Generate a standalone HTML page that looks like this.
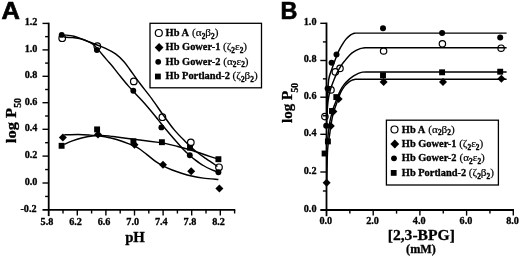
<!DOCTYPE html>
<html><head><meta charset="utf-8"><title>Figure</title>
<style>html,body{margin:0;padding:0;background:#fff}svg{display:block;filter:grayscale(1)}</style></head>
<body><svg width="520" height="258" viewBox="0 0 520 258">
<rect width="520" height="258" fill="#fff"/>
<circle cx="62.20" cy="38.20" r="3.30" fill="#fff" stroke="#000" stroke-width="1.2"/>
<circle cx="97.30" cy="46.20" r="3.30" fill="#fff" stroke="#000" stroke-width="1.2"/>
<circle cx="133.80" cy="81.40" r="3.30" fill="#fff" stroke="#000" stroke-width="1.2"/>
<circle cx="162.40" cy="117.20" r="3.30" fill="#fff" stroke="#000" stroke-width="1.2"/>
<circle cx="190.80" cy="142.50" r="3.30" fill="#fff" stroke="#000" stroke-width="1.2"/>
<circle cx="219.00" cy="167.30" r="3.30" fill="#fff" stroke="#000" stroke-width="1.2"/>
<line x1="48.70" y1="22.70" x2="48.70" y2="216.10" stroke="#000" stroke-width="1.80"/>
<line x1="42.50" y1="209.90" x2="235.30" y2="209.90" stroke="#000" stroke-width="1.80"/>
<line x1="42.50" y1="23.40" x2="48.70" y2="23.40" stroke="#000" stroke-width="1.40"/>
<text x="37.40" y="25.30" font-size="10.20" text-anchor="end" font-family="Liberation Serif, serif" font-weight="bold" stroke="#000" stroke-width="0.3" >1.2</text>
<line x1="45.10" y1="36.65" x2="48.70" y2="36.65" stroke="#000" stroke-width="1.40"/>
<line x1="42.50" y1="49.90" x2="48.70" y2="49.90" stroke="#000" stroke-width="1.40"/>
<text x="37.40" y="51.80" font-size="10.20" text-anchor="end" font-family="Liberation Serif, serif" font-weight="bold" stroke="#000" stroke-width="0.3" >1.0</text>
<line x1="45.10" y1="63.10" x2="48.70" y2="63.10" stroke="#000" stroke-width="1.40"/>
<line x1="42.50" y1="76.30" x2="48.70" y2="76.30" stroke="#000" stroke-width="1.40"/>
<text x="37.40" y="78.20" font-size="10.20" text-anchor="end" font-family="Liberation Serif, serif" font-weight="bold" stroke="#000" stroke-width="0.3" >0.8</text>
<line x1="45.10" y1="89.50" x2="48.70" y2="89.50" stroke="#000" stroke-width="1.40"/>
<line x1="42.50" y1="102.70" x2="48.70" y2="102.70" stroke="#000" stroke-width="1.40"/>
<text x="37.40" y="104.60" font-size="10.20" text-anchor="end" font-family="Liberation Serif, serif" font-weight="bold" stroke="#000" stroke-width="0.3" >0.6</text>
<line x1="45.10" y1="116.00" x2="48.70" y2="116.00" stroke="#000" stroke-width="1.40"/>
<line x1="42.50" y1="129.30" x2="48.70" y2="129.30" stroke="#000" stroke-width="1.40"/>
<text x="37.40" y="131.20" font-size="10.20" text-anchor="end" font-family="Liberation Serif, serif" font-weight="bold" stroke="#000" stroke-width="0.3" >0.4</text>
<line x1="45.10" y1="142.70" x2="48.70" y2="142.70" stroke="#000" stroke-width="1.40"/>
<line x1="42.50" y1="156.10" x2="48.70" y2="156.10" stroke="#000" stroke-width="1.40"/>
<text x="37.40" y="158.00" font-size="10.20" text-anchor="end" font-family="Liberation Serif, serif" font-weight="bold" stroke="#000" stroke-width="0.3" >0.2</text>
<line x1="45.10" y1="169.55" x2="48.70" y2="169.55" stroke="#000" stroke-width="1.40"/>
<line x1="42.50" y1="183.00" x2="48.70" y2="183.00" stroke="#000" stroke-width="1.40"/>
<text x="37.40" y="184.90" font-size="10.20" text-anchor="end" font-family="Liberation Serif, serif" font-weight="bold" stroke="#000" stroke-width="0.3" >0.0</text>
<line x1="45.10" y1="196.45" x2="48.70" y2="196.45" stroke="#000" stroke-width="1.40"/>
<text x="36.60" y="211.80" font-size="10.20" text-anchor="end" font-family="Liberation Serif, serif" font-weight="bold" stroke="#000" stroke-width="0.3" >-0.2</text>
<text x="46.90" y="224.90" font-size="10.20" text-anchor="middle" font-family="Liberation Serif, serif" font-weight="bold" stroke="#000" stroke-width="0.3" >5.8</text>
<line x1="63.00" y1="209.90" x2="63.00" y2="213.50" stroke="#000" stroke-width="1.40"/>
<line x1="77.30" y1="209.90" x2="77.30" y2="215.50" stroke="#000" stroke-width="1.40"/>
<text x="75.50" y="224.90" font-size="10.20" text-anchor="middle" font-family="Liberation Serif, serif" font-weight="bold" stroke="#000" stroke-width="0.3" >6.2</text>
<line x1="91.60" y1="209.90" x2="91.60" y2="213.50" stroke="#000" stroke-width="1.40"/>
<line x1="105.90" y1="209.90" x2="105.90" y2="215.50" stroke="#000" stroke-width="1.40"/>
<text x="104.10" y="224.90" font-size="10.20" text-anchor="middle" font-family="Liberation Serif, serif" font-weight="bold" stroke="#000" stroke-width="0.3" >6.6</text>
<line x1="120.20" y1="209.90" x2="120.20" y2="213.50" stroke="#000" stroke-width="1.40"/>
<line x1="134.50" y1="209.90" x2="134.50" y2="215.50" stroke="#000" stroke-width="1.40"/>
<text x="132.70" y="224.90" font-size="10.20" text-anchor="middle" font-family="Liberation Serif, serif" font-weight="bold" stroke="#000" stroke-width="0.3" >7.0</text>
<line x1="148.80" y1="209.90" x2="148.80" y2="213.50" stroke="#000" stroke-width="1.40"/>
<line x1="163.10" y1="209.90" x2="163.10" y2="215.50" stroke="#000" stroke-width="1.40"/>
<text x="161.30" y="224.90" font-size="10.20" text-anchor="middle" font-family="Liberation Serif, serif" font-weight="bold" stroke="#000" stroke-width="0.3" >7.4</text>
<line x1="177.40" y1="209.90" x2="177.40" y2="213.50" stroke="#000" stroke-width="1.40"/>
<line x1="191.70" y1="209.90" x2="191.70" y2="215.50" stroke="#000" stroke-width="1.40"/>
<text x="189.90" y="224.90" font-size="10.20" text-anchor="middle" font-family="Liberation Serif, serif" font-weight="bold" stroke="#000" stroke-width="0.3" >7.8</text>
<line x1="206.00" y1="209.90" x2="206.00" y2="213.50" stroke="#000" stroke-width="1.40"/>
<line x1="220.30" y1="209.90" x2="220.30" y2="215.50" stroke="#000" stroke-width="1.40"/>
<text x="218.50" y="224.90" font-size="10.20" text-anchor="middle" font-family="Liberation Serif, serif" font-weight="bold" stroke="#000" stroke-width="0.3" >8.2</text>
<line x1="234.60" y1="209.90" x2="234.60" y2="213.50" stroke="#000" stroke-width="1.40"/>
<text x="135.00" y="241.50" font-size="14.80" text-anchor="middle" font-family="Liberation Serif, serif" font-weight="bold" stroke="#000" stroke-width="0.3" >pH</text>
<text transform="translate(15.7,143.2) rotate(-90) scale(1.065,1)" font-size="15.5" font-family="Liberation Serif, serif" font-weight="bold" stroke="#000" stroke-width="0.3">log P<tspan font-size="9.3" dx="0.1" dy="4.8">50</tspan></text>
<text x="1.6" y="19.3" font-size="24.5" font-family="Liberation Sans, sans-serif" font-weight="bold" stroke="#000" stroke-width="0.7" transform="translate(1.6 19.3) scale(1.04 1) translate(-1.6 -19.3)">A</text>
<path d="M64.30 34.90 C65.92 35.13 70.70 35.47 74.00 36.30 C77.30 37.13 80.68 38.62 84.10 39.90 C87.52 41.18 91.02 42.62 94.50 44.00 C97.98 45.38 101.43 46.50 105.00 48.20 C108.57 49.90 112.73 51.93 115.90 54.20 C119.07 56.47 121.65 59.22 124.00 61.80 C126.35 64.38 127.33 66.08 130.00 69.70 C132.67 73.32 136.38 78.68 140.00 83.50 C143.62 88.32 147.80 93.30 151.70 98.60 C155.60 103.90 159.63 110.08 163.40 115.30 C167.17 120.52 170.70 125.58 174.30 129.90 C177.90 134.22 181.52 137.73 185.00 141.20 C188.48 144.67 191.70 147.80 195.20 150.70 C198.70 153.60 202.28 155.98 206.00 158.60 C209.72 161.22 215.58 165.10 217.50 166.40" fill="none" stroke="#000" stroke-width="1.45" stroke-linejoin="round"/>
<path d="M64.30 37.20 C65.65 37.27 69.68 37.35 72.40 37.60 C75.12 37.85 77.68 37.90 80.60 38.70 C83.52 39.50 87.50 41.18 89.90 42.40 C92.30 43.62 93.37 44.50 95.00 46.00 C96.63 47.50 97.77 49.13 99.70 51.40 C101.63 53.67 104.38 57.00 106.60 59.60 C108.82 62.20 110.75 64.27 113.00 67.00 C115.25 69.73 117.55 72.85 120.10 76.00 C122.65 79.15 125.77 82.98 128.30 85.90 C130.83 88.82 132.95 90.98 135.30 93.50 C137.65 96.02 139.85 98.17 142.40 101.00 C144.95 103.83 148.00 107.40 150.60 110.50 C153.20 113.60 155.43 116.43 158.00 119.60 C160.57 122.77 163.32 126.27 166.00 129.50 C168.68 132.73 171.07 135.53 174.10 139.00 C177.13 142.47 181.55 147.53 184.20 150.30 C186.85 153.07 188.18 154.02 190.00 155.60 C191.82 157.18 192.88 158.15 195.10 159.80 C197.32 161.45 200.58 163.87 203.30 165.50 C206.02 167.13 209.03 168.53 211.40 169.60 C213.77 170.67 216.48 171.52 217.50 171.90" fill="none" stroke="#000" stroke-width="1.45" stroke-linejoin="round"/>
<path d="M64.30 134.80 C66.63 134.75 74.03 134.45 78.30 134.50 C82.57 134.55 86.03 134.82 89.90 135.10 C93.77 135.38 98.15 135.75 101.50 136.20 C104.85 136.65 107.48 137.25 110.00 137.80 C112.52 138.35 113.55 138.53 116.60 139.50 C119.65 140.47 124.82 142.25 128.30 143.60 C131.78 144.95 134.45 145.82 137.50 147.60 C140.55 149.38 143.53 151.95 146.60 154.30 C149.67 156.65 153.18 159.77 155.90 161.70 C158.62 163.63 160.18 164.52 162.90 165.90 C165.62 167.28 169.10 168.78 172.20 170.00 C175.30 171.22 178.27 172.20 181.50 173.20 C184.73 174.20 187.97 175.18 191.60 176.00 C195.23 176.82 198.83 177.52 203.30 178.10 C207.77 178.68 215.88 179.27 218.40 179.50" fill="none" stroke="#000" stroke-width="1.45" stroke-linejoin="round"/>
<path d="M64.30 144.40 C65.65 143.82 69.50 141.97 72.40 140.90 C75.30 139.83 78.40 138.82 81.70 138.00 C85.00 137.18 88.90 136.43 92.20 136.00 C95.50 135.57 98.53 135.38 101.50 135.40 C104.47 135.42 107.48 135.83 110.00 136.10 C112.52 136.37 112.98 136.52 116.60 137.00 C120.22 137.48 126.85 138.37 131.70 139.00 C136.55 139.63 141.23 140.23 145.70 140.80 C150.17 141.37 155.28 141.97 158.50 142.40 C161.72 142.83 161.98 142.78 165.00 143.40 C168.02 144.02 172.72 145.13 176.60 146.10 C180.48 147.07 184.42 148.05 188.30 149.20 C192.18 150.35 197.02 152.03 199.90 153.00 C202.78 153.97 202.67 154.02 205.60 155.00 C208.53 155.98 215.52 158.25 217.50 158.90" fill="none" stroke="#000" stroke-width="1.45" stroke-linejoin="round"/>
<circle cx="61.70" cy="34.90" r="2.95" fill="#000"/>
<circle cx="96.90" cy="50.00" r="2.95" fill="#000"/>
<circle cx="133.30" cy="90.80" r="2.95" fill="#000"/>
<circle cx="161.40" cy="127.40" r="2.95" fill="#000"/>
<circle cx="189.80" cy="155.30" r="2.95" fill="#000"/>
<circle cx="218.40" cy="172.30" r="2.95" fill="#000"/>
<rect x="58.65" y="142.85" width="5.90" height="5.90" fill="#000"/>
<rect x="94.15" y="126.45" width="5.90" height="5.90" fill="#000"/>
<rect x="130.45" y="138.35" width="5.90" height="5.90" fill="#000"/>
<rect x="158.95" y="139.25" width="5.90" height="5.90" fill="#000"/>
<rect x="187.05" y="144.75" width="5.90" height="5.90" fill="#000"/>
<rect x="215.45" y="156.25" width="5.90" height="5.90" fill="#000"/>
<path d="M62.90 133.50 L66.90 137.50 L62.90 141.50 L58.90 137.50Z" fill="#000"/>
<path d="M98.00 130.50 L102.00 134.50 L98.00 138.50 L94.00 134.50Z" fill="#000"/>
<path d="M134.50 140.80 L138.50 144.80 L134.50 148.80 L130.50 144.80Z" fill="#000"/>
<path d="M163.00 160.80 L167.00 164.80 L163.00 168.80 L159.00 164.80Z" fill="#000"/>
<path d="M191.20 167.20 L195.20 171.20 L191.20 175.20 L187.20 171.20Z" fill="#000"/>
<path d="M219.40 184.40 L223.40 188.40 L219.40 192.40 L215.40 188.40Z" fill="#000"/>
<rect x="150.00" y="23.30" width="111.50" height="64.50" fill="#fff" stroke="#000" stroke-width="1.3"/>
<circle cx="158.80" cy="33.00" r="3.50" fill="#fff" stroke="#000" stroke-width="1.2"/>
<text x="165.60" y="36.10" font-size="11.2" font-family="Liberation Serif, serif" stroke="#000" stroke-width="0.2"><tspan font-weight="bold" font-size="10.4" stroke-width="0.3">Hb A </tspan><tspan dx="1.1">(α</tspan><tspan font-size="7.3" font-weight="bold" stroke-width="0.35" dy="2.7">2</tspan><tspan dy="-2.7">β</tspan><tspan font-size="7.3" font-weight="bold" stroke-width="0.35" dy="2.7">2</tspan><tspan dy="-2.7">)</tspan></text>
<path d="M159.10 43.10 L163.50 47.50 L159.10 51.90 L154.70 47.50Z" fill="#000"/>
<text x="165.60" y="50.40" font-size="11.2" font-family="Liberation Serif, serif" stroke="#000" stroke-width="0.2"><tspan font-weight="bold" font-size="10.4" stroke-width="0.3">Hb Gower-1 </tspan><tspan dx="0.0">(ζ</tspan><tspan font-size="7.3" font-weight="bold" stroke-width="0.35" dy="2.7">2</tspan><tspan dy="-2.7">ε</tspan><tspan font-size="7.3" font-weight="bold" stroke-width="0.35" dy="2.7">2</tspan><tspan dy="-2.7">)</tspan></text>
<circle cx="158.20" cy="61.80" r="2.90" fill="#000"/>
<text x="165.60" y="64.70" font-size="11.2" font-family="Liberation Serif, serif" stroke="#000" stroke-width="0.2"><tspan font-weight="bold" font-size="10.4" stroke-width="0.3">Hb Gower-2 </tspan><tspan dx="0.3">(α</tspan><tspan font-size="7.3" font-weight="bold" stroke-width="0.35" dy="2.7">2</tspan><tspan dy="-2.7">ε</tspan><tspan font-size="7.3" font-weight="bold" stroke-width="0.35" dy="2.7">2</tspan><tspan dy="-2.7">)</tspan></text>
<rect x="155.00" y="73.60" width="5.80" height="5.80" fill="#000"/>
<text x="165.60" y="79.00" font-size="11.2" font-family="Liberation Serif, serif" stroke="#000" stroke-width="0.2"><tspan font-weight="bold" font-size="10.4" stroke-width="0.3">Hb Portland-2 </tspan><tspan dx="0.0">(ζ</tspan><tspan font-size="7.3" font-weight="bold" stroke-width="0.35" dy="2.7">2</tspan><tspan dy="-2.7">β</tspan><tspan font-size="7.3" font-weight="bold" stroke-width="0.35" dy="2.7">2</tspan><tspan dy="-2.7">)</tspan></text>
<circle cx="383.60" cy="51.00" r="3.20" fill="#fff" stroke="#000" stroke-width="1.2"/>
<circle cx="340.00" cy="68.40" r="3.20" fill="#fff" stroke="#000" stroke-width="1.2"/>
<circle cx="335.30" cy="71.90" r="3.20" fill="#fff" stroke="#000" stroke-width="1.2"/>
<circle cx="331.00" cy="89.90" r="3.20" fill="#fff" stroke="#000" stroke-width="1.2"/>
<circle cx="324.90" cy="116.60" r="3.20" fill="#fff" stroke="#000" stroke-width="1.2"/>
<circle cx="442.40" cy="43.80" r="3.20" fill="#fff" stroke="#000" stroke-width="1.2"/>
<circle cx="501.10" cy="48.20" r="3.20" fill="#fff" stroke="#000" stroke-width="1.2"/>
<line x1="326.50" y1="22.60" x2="326.50" y2="216.20" stroke="#000" stroke-width="1.80"/>
<line x1="320.30" y1="210.00" x2="514.00" y2="210.00" stroke="#000" stroke-width="1.80"/>
<line x1="320.30" y1="23.30" x2="326.50" y2="23.30" stroke="#000" stroke-width="1.40"/>
<text x="316.50" y="25.00" font-size="10.20" text-anchor="end" font-family="Liberation Serif, serif" font-weight="bold" stroke="#000" stroke-width="0.3" >1.0</text>
<line x1="322.90" y1="41.90" x2="326.50" y2="41.90" stroke="#000" stroke-width="1.40"/>
<line x1="320.30" y1="60.50" x2="326.50" y2="60.50" stroke="#000" stroke-width="1.40"/>
<text x="316.50" y="62.20" font-size="10.20" text-anchor="end" font-family="Liberation Serif, serif" font-weight="bold" stroke="#000" stroke-width="0.3" >0.8</text>
<line x1="322.90" y1="78.85" x2="326.50" y2="78.85" stroke="#000" stroke-width="1.40"/>
<line x1="320.30" y1="97.20" x2="326.50" y2="97.20" stroke="#000" stroke-width="1.40"/>
<text x="316.50" y="98.90" font-size="10.20" text-anchor="end" font-family="Liberation Serif, serif" font-weight="bold" stroke="#000" stroke-width="0.3" >0.6</text>
<line x1="322.90" y1="115.75" x2="326.50" y2="115.75" stroke="#000" stroke-width="1.40"/>
<line x1="320.30" y1="134.30" x2="326.50" y2="134.30" stroke="#000" stroke-width="1.40"/>
<text x="316.50" y="136.00" font-size="10.20" text-anchor="end" font-family="Liberation Serif, serif" font-weight="bold" stroke="#000" stroke-width="0.3" >0.4</text>
<line x1="322.90" y1="153.15" x2="326.50" y2="153.15" stroke="#000" stroke-width="1.40"/>
<line x1="320.30" y1="172.00" x2="326.50" y2="172.00" stroke="#000" stroke-width="1.40"/>
<text x="316.50" y="173.70" font-size="10.20" text-anchor="end" font-family="Liberation Serif, serif" font-weight="bold" stroke="#000" stroke-width="0.3" >0.2</text>
<line x1="322.90" y1="191.00" x2="326.50" y2="191.00" stroke="#000" stroke-width="1.40"/>
<text x="316.50" y="211.70" font-size="10.20" text-anchor="end" font-family="Liberation Serif, serif" font-weight="bold" stroke="#000" stroke-width="0.3" >0.0</text>
<text x="325.80" y="223.90" font-size="10.20" text-anchor="middle" font-family="Liberation Serif, serif" font-weight="bold" stroke="#000" stroke-width="0.3" >0.0</text>
<line x1="349.85" y1="210.00" x2="349.85" y2="213.60" stroke="#000" stroke-width="1.40"/>
<line x1="373.20" y1="210.00" x2="373.20" y2="215.60" stroke="#000" stroke-width="1.40"/>
<text x="372.50" y="223.90" font-size="10.20" text-anchor="middle" font-family="Liberation Serif, serif" font-weight="bold" stroke="#000" stroke-width="0.3" >2.0</text>
<line x1="396.55" y1="210.00" x2="396.55" y2="213.60" stroke="#000" stroke-width="1.40"/>
<line x1="419.90" y1="210.00" x2="419.90" y2="215.60" stroke="#000" stroke-width="1.40"/>
<text x="419.20" y="223.90" font-size="10.20" text-anchor="middle" font-family="Liberation Serif, serif" font-weight="bold" stroke="#000" stroke-width="0.3" >4.0</text>
<line x1="443.25" y1="210.00" x2="443.25" y2="213.60" stroke="#000" stroke-width="1.40"/>
<line x1="466.60" y1="210.00" x2="466.60" y2="215.60" stroke="#000" stroke-width="1.40"/>
<text x="465.90" y="223.90" font-size="10.20" text-anchor="middle" font-family="Liberation Serif, serif" font-weight="bold" stroke="#000" stroke-width="0.3" >6.0</text>
<line x1="489.95" y1="210.00" x2="489.95" y2="213.60" stroke="#000" stroke-width="1.40"/>
<line x1="513.30" y1="210.00" x2="513.30" y2="215.60" stroke="#000" stroke-width="1.40"/>
<text x="512.60" y="223.90" font-size="10.20" text-anchor="middle" font-family="Liberation Serif, serif" font-weight="bold" stroke="#000" stroke-width="0.3" >8.0</text>
<text x="421.30" y="239.90" font-size="15.60" text-anchor="middle" font-family="Liberation Serif, serif" font-weight="bold" stroke="#000" stroke-width="0.3" >[2,3-BPG]</text>
<text x="421.00" y="253.00" font-size="12.20" text-anchor="middle" font-family="Liberation Serif, serif" font-weight="bold" stroke="#000" stroke-width="0.3" >(mM)</text>
<text transform="translate(292,122.9) rotate(-90)" font-size="15" font-family="Liberation Serif, serif" font-weight="bold" stroke="#000" stroke-width="0.3">log P<tspan font-size="9.5" dx="-1.6" dy="5.7">50</tspan></text>
<text x="280.6" y="19.3" font-size="23.4" font-family="Liberation Sans, sans-serif" font-weight="bold" stroke="#000" stroke-width="0.6">B</text>
<path d="M326.60 126.00 C326.73 121.67 327.05 107.72 327.40 100.00 C327.75 92.28 328.00 84.73 328.70 79.70 C329.40 74.67 330.53 73.10 331.60 69.80 C332.67 66.50 333.88 63.10 335.10 59.90 C336.32 56.70 337.73 53.12 338.90 50.60 C340.07 48.08 340.98 46.63 342.10 44.80 C343.22 42.97 344.33 41.13 345.60 39.60 C346.87 38.07 348.53 36.57 349.70 35.60 C350.87 34.63 351.68 34.22 352.60 33.80 C353.52 33.38 354.77 33.22 355.20 33.10 L506.60 33.10" fill="none" stroke="#000" stroke-width="1.45" stroke-linejoin="round"/>
<path d="M326.70 117.00 C326.95 114.17 327.60 104.50 328.20 100.00 C328.80 95.50 329.33 93.38 330.30 90.00 C331.27 86.62 332.82 82.68 334.00 79.70 C335.18 76.72 336.15 74.53 337.40 72.10 C338.65 69.67 340.13 67.13 341.50 65.10 C342.87 63.07 344.18 61.63 345.60 59.90 C347.02 58.17 348.60 56.08 350.00 54.70 C351.40 53.32 352.60 52.50 354.00 51.60 C355.40 50.70 357.00 49.88 358.40 49.30 C359.80 48.72 361.20 48.37 362.40 48.10 C363.60 47.83 365.07 47.77 365.60 47.70 L506.60 47.70" fill="none" stroke="#000" stroke-width="1.45" stroke-linejoin="round"/>
<path d="M327.40 142.00 C327.72 139.17 328.67 129.35 329.30 125.00 C329.93 120.65 330.58 118.57 331.20 115.90 C331.82 113.23 332.35 111.07 333.00 109.00 C333.65 106.93 334.37 105.45 335.10 103.50 C335.83 101.55 336.53 99.43 337.40 97.30 C338.27 95.17 339.23 92.77 340.30 90.70 C341.37 88.63 342.33 86.78 343.80 84.90 C345.27 83.02 347.45 80.90 349.10 79.40 C350.75 77.90 352.15 76.90 353.70 75.90 C355.25 74.90 356.93 74.03 358.40 73.40 C359.87 72.77 361.15 72.35 362.50 72.10 C363.85 71.85 365.83 71.93 366.50 71.90 L506.60 71.90" fill="none" stroke="#000" stroke-width="1.45" stroke-linejoin="round"/>
<path d="M326.80 182.00 C326.93 176.67 327.13 157.83 327.60 150.00 C328.07 142.17 329.07 139.00 329.60 135.00 C330.13 131.00 330.30 129.17 330.80 126.00 C331.30 122.83 331.98 118.78 332.60 116.00 C333.22 113.22 333.87 111.30 334.50 109.30 C335.13 107.30 335.62 106.23 336.40 104.00 C337.18 101.77 338.33 98.12 339.20 95.90 C340.07 93.68 340.63 92.42 341.60 90.70 C342.57 88.98 343.70 87.12 345.00 85.60 C346.30 84.08 348.15 82.53 349.40 81.60 C350.65 80.67 351.53 80.38 352.50 80.00 C353.47 79.62 354.75 79.42 355.20 79.30 L506.60 79.30" fill="none" stroke="#000" stroke-width="1.45" stroke-linejoin="round"/>
<circle cx="383.00" cy="28.30" r="3.00" fill="#000"/>
<circle cx="336.50" cy="54.40" r="3.00" fill="#000"/>
<circle cx="331.60" cy="62.80" r="3.00" fill="#000"/>
<circle cx="327.60" cy="88.40" r="3.00" fill="#000"/>
<circle cx="326.20" cy="125.80" r="3.00" fill="#000"/>
<circle cx="442.10" cy="33.10" r="3.00" fill="#000"/>
<circle cx="500.20" cy="37.40" r="3.00" fill="#000"/>
<rect x="380.05" y="72.35" width="5.90" height="5.90" fill="#000"/>
<rect x="333.35" y="94.15" width="5.90" height="5.90" fill="#000"/>
<rect x="329.05" y="108.05" width="5.90" height="5.90" fill="#000"/>
<rect x="324.95" y="138.45" width="5.90" height="5.90" fill="#000"/>
<rect x="321.65" y="150.55" width="5.90" height="5.90" fill="#000"/>
<rect x="439.15" y="69.35" width="5.90" height="5.90" fill="#000"/>
<rect x="497.25" y="68.75" width="5.90" height="5.90" fill="#000"/>
<path d="M383.60 78.10 L387.60 82.10 L383.60 86.10 L379.60 82.10Z" fill="#000"/>
<path d="M338.60 94.90 L342.60 98.90 L338.60 102.90 L334.60 98.90Z" fill="#000"/>
<path d="M333.40 107.60 L337.40 111.60 L333.40 115.60 L329.40 111.60Z" fill="#000"/>
<path d="M330.80 121.90 L334.80 125.90 L330.80 129.90 L326.80 125.90Z" fill="#000"/>
<path d="M326.60 178.80 L330.60 182.80 L326.60 186.80 L322.60 182.80Z" fill="#000"/>
<path d="M443.00 78.00 L447.00 82.00 L443.00 86.00 L439.00 82.00Z" fill="#000"/>
<path d="M501.40 74.70 L505.40 78.70 L501.40 82.70 L497.40 78.70Z" fill="#000"/>
<rect x="386.40" y="120.20" width="112.00" height="64.80" fill="#fff" stroke="#000" stroke-width="1.3"/>
<circle cx="394.50" cy="129.50" r="3.50" fill="#fff" stroke="#000" stroke-width="1.2"/>
<text x="401.80" y="132.70" font-size="11.2" font-family="Liberation Serif, serif" stroke="#000" stroke-width="0.2"><tspan font-weight="bold" font-size="10.4" stroke-width="0.3">Hb A </tspan><tspan dx="1.1">(α</tspan><tspan font-size="7.3" font-weight="bold" stroke-width="0.35" dy="2.7">2</tspan><tspan dy="-2.7">β</tspan><tspan font-size="7.3" font-weight="bold" stroke-width="0.35" dy="2.7">2</tspan><tspan dy="-2.7">)</tspan></text>
<path d="M394.80 139.60 L399.20 144.00 L394.80 148.40 L390.40 144.00Z" fill="#000"/>
<text x="401.80" y="147.10" font-size="11.2" font-family="Liberation Serif, serif" stroke="#000" stroke-width="0.2"><tspan font-weight="bold" font-size="10.4" stroke-width="0.3">Hb Gower-1 </tspan><tspan dx="0.0">(ζ</tspan><tspan font-size="7.3" font-weight="bold" stroke-width="0.35" dy="2.7">2</tspan><tspan dy="-2.7">ε</tspan><tspan font-size="7.3" font-weight="bold" stroke-width="0.35" dy="2.7">2</tspan><tspan dy="-2.7">)</tspan></text>
<circle cx="394.00" cy="158.30" r="2.90" fill="#000"/>
<text x="401.80" y="161.40" font-size="11.2" font-family="Liberation Serif, serif" stroke="#000" stroke-width="0.2"><tspan font-weight="bold" font-size="10.4" stroke-width="0.3">Hb Gower-2 </tspan><tspan dx="0.3">(α</tspan><tspan font-size="7.3" font-weight="bold" stroke-width="0.35" dy="2.7">2</tspan><tspan dy="-2.7">ε</tspan><tspan font-size="7.3" font-weight="bold" stroke-width="0.35" dy="2.7">2</tspan><tspan dy="-2.7">)</tspan></text>
<rect x="390.80" y="170.00" width="5.80" height="5.80" fill="#000"/>
<text x="401.80" y="175.80" font-size="11.2" font-family="Liberation Serif, serif" stroke="#000" stroke-width="0.2"><tspan font-weight="bold" font-size="10.4" stroke-width="0.3">Hb Portland-2 </tspan><tspan dx="0.0">(ζ</tspan><tspan font-size="7.3" font-weight="bold" stroke-width="0.35" dy="2.7">2</tspan><tspan dy="-2.7">β</tspan><tspan font-size="7.3" font-weight="bold" stroke-width="0.35" dy="2.7">2</tspan><tspan dy="-2.7">)</tspan></text>
</svg></body></html>
